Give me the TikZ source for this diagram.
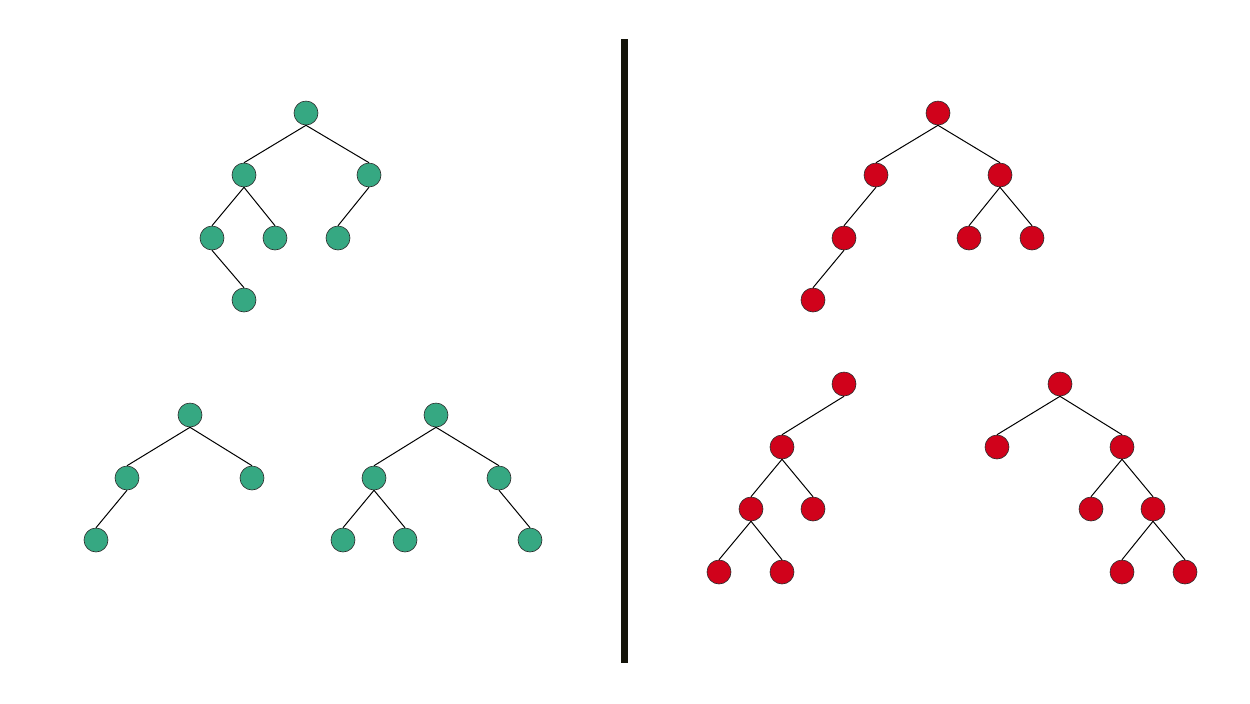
\documentclass[tikz,border=0pt]{standalone}
\usepackage{xcolor,tikz}
\definecolor{gruen}{HTML}{36A882}
\definecolor{rot}{HTML}{D0021B}
\definecolor{rand}{HTML}{2B2B2B}
\definecolor{trenner}{HTML}{14140A}
\tikzset{knoten/.style={circle,inner sep=0,minimum size=12pt,draw=rand,line width=0.3pt},
  gknoten/.style={knoten,fill=gruen},
  rknoten/.style={knoten,fill=rot},
  kante/.style={black,line width=0.5pt}}
\begin{document}
\begin{tikzpicture}[x=0.5pt,y=-0.5pt]
\useasboundingbox (0,0) rectangle (1250,703);
% Trennlinie zwischen den beiden Seiten
\draw[trenner,line width=3.5pt] (624.5,39) -- (624.5,663);
% links: gruene Baeume
\node[gknoten] (g1) at (306,113) {};
\node[gknoten] (g1l) at (244,175) {};
\node[gknoten] (g1r) at (369,175) {};
\node[gknoten] (g1ll) at (212,238) {};
\node[gknoten] (g1lr) at (275,238) {};
\node[gknoten] (g1rl) at (338,238) {};
\node[gknoten] (g1lll) at (244,300) {};
\node[gknoten] (g2) at (190,415) {};
\node[gknoten] (g2l) at (127,478) {};
\node[gknoten] (g2r) at (252,478) {};
\node[gknoten] (g2ll) at (96,540) {};
\node[gknoten] (g3) at (436,415) {};
\node[gknoten] (g3l) at (374,478) {};
\node[gknoten] (g3r) at (499,478) {};
\node[gknoten] (g3ll) at (343,540) {};
\node[gknoten] (g3lr) at (405,540) {};
\node[gknoten] (g3rr) at (530,540) {};
% rechts: rote Baeume
\node[rknoten] (r1) at (938,113) {};
\node[rknoten] (r1l) at (876,175) {};
\node[rknoten] (r1r) at (1000,175) {};
\node[rknoten] (r1ll) at (844,238) {};
\node[rknoten] (r1rl) at (969,238) {};
\node[rknoten] (r1rr) at (1032,238) {};
\node[rknoten] (r1lll) at (813,300) {};
\node[rknoten] (r2) at (844,384) {};
\node[rknoten] (r2l) at (782,447) {};
\node[rknoten] (r2ll) at (751,509) {};
\node[rknoten] (r2lr) at (813,509) {};
\node[rknoten] (r2lll) at (719,572) {};
\node[rknoten] (r2llr) at (782,572) {};
\node[rknoten] (r3) at (1060,384) {};
\node[rknoten] (r3l) at (997,447) {};
\node[rknoten] (r3r) at (1122,447) {};
\node[rknoten] (r3rl) at (1091,509) {};
\node[rknoten] (r3rr) at (1153,509) {};
\node[rknoten] (r3rrl) at (1122,572) {};
\node[rknoten] (r3rrr) at (1185,572) {};
% Kanten von unten (Elter) nach oben (Kind)
\foreach \a/\b in {g1/g1l,g1/g1r,g1l/g1ll,g1l/g1lr,g1r/g1rl,g1ll/g1lll,
  g2/g2l,g2/g2r,g2l/g2ll,g3/g3l,g3/g3r,g3l/g3ll,g3l/g3lr,g3r/g3rr,
  r1/r1l,r1/r1r,r1l/r1ll,r1r/r1rl,r1r/r1rr,r1ll/r1lll,
  r2/r2l,r2l/r2ll,r2l/r2lr,r2ll/r2lll,r2ll/r2llr,
  r3/r3l,r3/r3r,r3r/r3rl,r3r/r3rr,r3rr/r3rrl,r3rr/r3rrr}
  \draw[kante] (\a.south) -- (\b.north);
\end{tikzpicture}
\end{document}
